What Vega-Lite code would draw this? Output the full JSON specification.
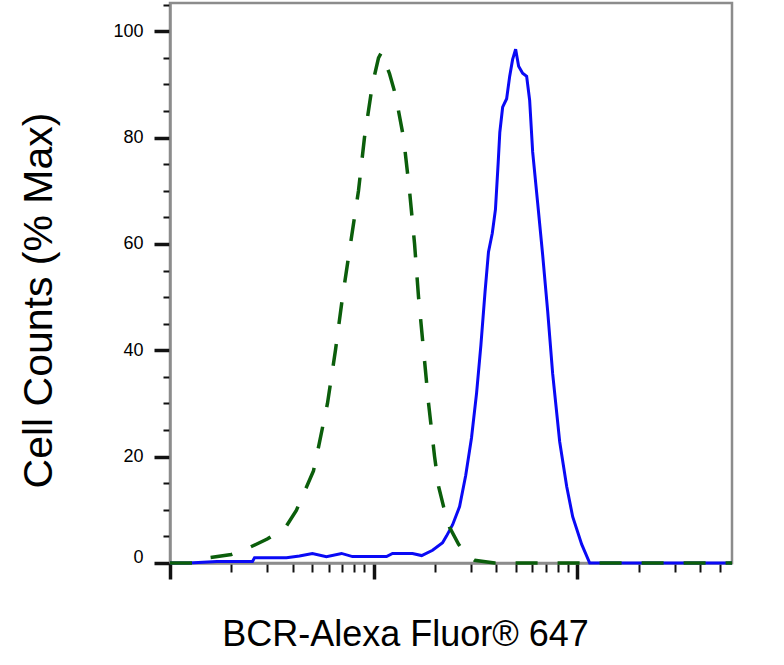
{
  "$schema": "https://vega.github.io/schema/vega-lite/v6.json",
  "width": 562,
  "height": 560,
  "autosize": "none",
  "padding": {"left": 170, "top": 3, "right": 52, "bottom": 102},
  "background": "white",
  "config": {
    "view": {"stroke": "#8c8c8c", "strokeWidth": 2.5},
    "font": "Liberation Sans"
  },
  "datasets": {
    "bcr": [
      {"x": 1, "y": 0}, {"x": 1.24, "y": 0}, {"x": 1.7, "y": 0.3}, {"x": 2.54, "y": 0.3},
      {"x": 2.6, "y": 1.0}, {"x": 3.73, "y": 1.0}, {"x": 4.32, "y": 1.3}, {"x": 5.0, "y": 1.8},
      {"x": 5.86, "y": 1.2}, {"x": 6.95, "y": 1.8}, {"x": 7.87, "y": 1.2}, {"x": 11.56, "y": 1.2},
      {"x": 12.37, "y": 1.8}, {"x": 15.5, "y": 1.8}, {"x": 17.2, "y": 1.4}, {"x": 19.45, "y": 2.4},
      {"x": 21.78, "y": 3.8}, {"x": 22.8, "y": 5.1}, {"x": 24.4, "y": 7.2}, {"x": 26.4, "y": 10.6},
      {"x": 28.3, "y": 16.5}, {"x": 30.2, "y": 23.5}, {"x": 32.0, "y": 32}, {"x": 33.6, "y": 41},
      {"x": 35.2, "y": 51}, {"x": 36.6, "y": 58.5}, {"x": 38.2, "y": 62}, {"x": 39.6, "y": 66.5},
      {"x": 40.8, "y": 75}, {"x": 41.6, "y": 81}, {"x": 42.95, "y": 85.7}, {"x": 44.94, "y": 87.3},
      {"x": 46.5, "y": 91.5}, {"x": 48.08, "y": 94.7}, {"x": 49.75, "y": 96.6}, {"x": 51.46, "y": 93.4},
      {"x": 53.84, "y": 92.1}, {"x": 56.34, "y": 91.5}, {"x": 58.29, "y": 87}, {"x": 60.3, "y": 77.3},
      {"x": 63.8, "y": 67.7}, {"x": 67.5, "y": 58}, {"x": 71.5, "y": 47.2}, {"x": 75.6, "y": 35.6},
      {"x": 81.85, "y": 22.8}, {"x": 88.6, "y": 14.4}, {"x": 94.8, "y": 8.7}, {"x": 105, "y": 3.5},
      {"x": 114.9, "y": 0}, {"x": 574, "y": 0}
    ],
    "isotype": [
      {"x": 1, "y": 0}, {"x": 1.4, "y": 0}, {"x": 1.56, "y": 1.0}, {"x": 2.0, "y": 1.6},
      {"x": 2.45, "y": 2.9}, {"x": 3.0, "y": 4.5}, {"x": 3.69, "y": 6.7}, {"x": 4.17, "y": 9.9},
      {"x": 4.62, "y": 13.8}, {"x": 5.06, "y": 17.3}, {"x": 5.24, "y": 20}, {"x": 5.93, "y": 30},
      {"x": 6.49, "y": 40}, {"x": 7.03, "y": 50}, {"x": 7.69, "y": 60}, {"x": 8.42, "y": 70},
      {"x": 9.01, "y": 80}, {"x": 9.86, "y": 90}, {"x": 10.56, "y": 95}, {"x": 10.92, "y": 96},
      {"x": 11.96, "y": 92}, {"x": 12.8, "y": 88}, {"x": 14.01, "y": 80}, {"x": 14.99, "y": 70},
      {"x": 15.87, "y": 60}, {"x": 16.6, "y": 50}, {"x": 17.57, "y": 40}, {"x": 18.59, "y": 30},
      {"x": 19.9, "y": 20}, {"x": 20.82, "y": 14.4}, {"x": 22.03, "y": 10.6}, {"x": 23.58, "y": 6.7},
      {"x": 26.11, "y": 3.5}, {"x": 28.58, "y": 1.5}, {"x": 31.28, "y": 0.5}, {"x": 39.24, "y": 0},
      {"x": 574, "y": 0}
    ]
  },
  "encoding": {
    "x": {
      "field": "x",
      "type": "quantitative",
      "scale": {"type": "log", "domain": [1, 574], "nice": false},
      "axis": {
        "title": "BCR-Alexa Fluor® 647",
        "values": [1, 2, 3, 4, 5, 6, 7, 8, 9, 10, 20, 30, 40, 50, 60, 70, 80, 90, 100, 200, 300, 400, 500],
        "labels": false,
        "grid": false,
        "domainColor": "#8c8c8c",
        "domainWidth": 2.5,
        "tickColor": "#111111",
        "tickSize": {"condition": {"test": "datum.value == 1 || datum.value == 10 || datum.value == 100", "value": 16}, "value": 9},
        "tickWidth": {"condition": {"test": "datum.value == 1 || datum.value == 10 || datum.value == 100", "value": 3.5}, "value": 2},
        "titleFont": "Liberation Sans",
        "titleFontSize": 36,
        "titleFontWeight": "normal",
        "titleColor": "black",
        "titleX": 235,
        "titleY": 82,
        "titleAlign": "center",
        "titleBaseline": "alphabetic"
      }
    },
    "y": {
      "field": "y",
      "type": "quantitative",
      "scale": {"domain": [0, 105.3], "nice": false, "zero": false},
      "axis": {
        "title": "Cell Counts (% Max)",
        "values": [0, 5, 10, 15, 20, 25, 30, 35, 40, 45, 50, 55, 60, 65, 70, 75, 80, 85, 90, 95, 100, 105],
        "labelExpr": "datum.value % 20 == 0 ? datum.label : ''",
        "grid": false,
        "domainColor": "#8c8c8c",
        "domainWidth": 2.5,
        "tickColor": "#111111",
        "tickSize": {"condition": {"test": "datum.value % 20 == 0", "value": 16}, "value": 7},
        "tickWidth": {"condition": {"test": "datum.value % 20 == 0", "value": 3.5}, "value": 2},
        "labelFont": "Liberation Sans",
        "labelFontSize": 18,
        "labelColor": "black",
        "labelPadding": 11,
        "labelOffset": {"condition": {"test": "datum.value == 0", "value": -6}, "value": 0},
        "titleFont": "Liberation Sans",
        "titleFontSize": 41,
        "titleFontWeight": "normal",
        "titleColor": "black",
        "titleAngle": -90,
        "titleX": -131,
        "titleY": 297,
        "titleAlign": "center",
        "titleBaseline": "middle"
      }
    }
  },
  "layer": [
    {
      "data": {"name": "bcr"},
      "mark": {"type": "line", "color": "#0a0af5", "strokeWidth": 3}
    },
    {
      "data": {"name": "isotype"},
      "mark": {"type": "line", "color": "#0b5e0b", "strokeWidth": 3.5, "strokeDash": [22, 20]}
    }
  ]
}
